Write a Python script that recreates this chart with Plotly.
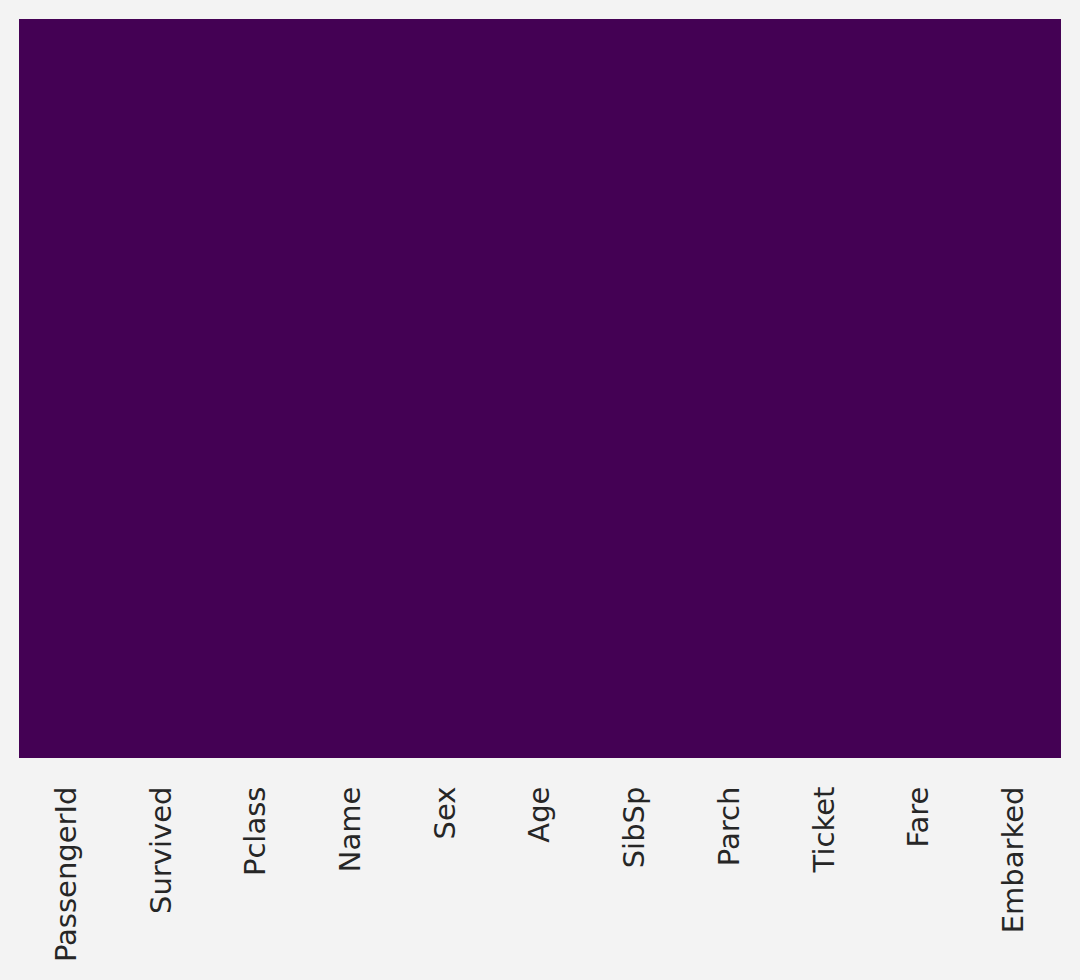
import plotly.graph_objects as go

columns = ["PassengerId", "Survived", "Pclass", "Name", "Sex", "Age",
           "SibSp", "Parch", "Ticket", "Fare", "Embarked"]
n_rows = 891
missing_per_column = [0, 0, 0, 0, 0, 0, 0, 0, 0, 0, 0]

# boolean isnull matrix: row i, column j missing if i < missing count (all zero here)
z = [[1 if i < missing_per_column[j] else 0 for j in range(len(columns))]
     for i in range(n_rows)]

bg = "#f3f3f3"
fig = go.Figure(go.Heatmap(
    z=z, x=columns, y=list(range(n_rows)),
    colorscale="Viridis", zmin=0, zmax=1, showscale=False, hoverinfo="skip",
))
fig.update_layout(
    width=1080, height=980,
    margin=dict(l=19, r=19, t=19, b=222),
    paper_bgcolor=bg, plot_bgcolor=bg,
    font=dict(family="DejaVu Sans", size=29, color="#262626"),
)
fig.update_xaxes(tickangle=-90, ticks="outside", ticklen=16, tickcolor=bg,
                 showgrid=False, zeroline=False, showline=False)
fig.update_yaxes(autorange="reversed", showticklabels=False, showgrid=False,
                 zeroline=False, showline=False, ticks="")
fig.write_html(
    "out.html",
    config={"displayModeBar": False},
    post_script="document.body.style.margin='0';document.body.style.background='%s';" % bg,
)
